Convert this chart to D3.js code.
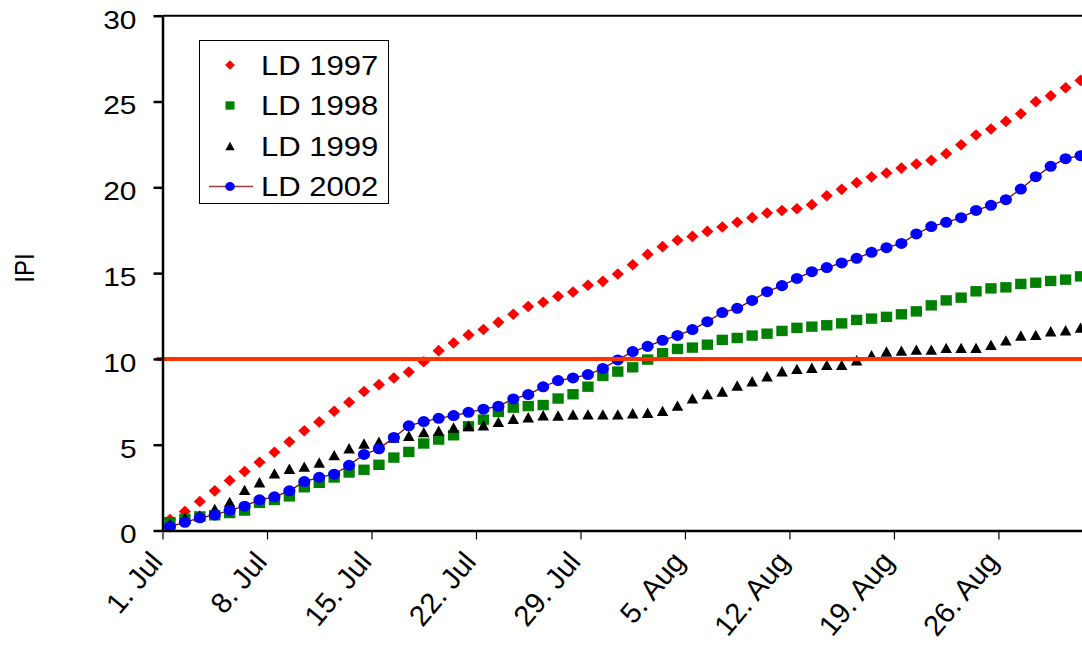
<!DOCTYPE html>
<html>
<head>
<meta charset="utf-8">
<script src="https://cdn.jsdelivr.net/npm/d3@7"></script>
<style>
  html, body { margin: 0; padding: 0; background: #fff; }
  svg { display: block; font-family: "Liberation Sans", Arial, sans-serif; }
</style>
</head>
<body>
<svg id="chart" width="1082" height="649"></svg>
<script>
// Daily observations, 1 July to 31 August
const firstDay = new Date(2002, 6, 1);
const lastDay = new Date(2002, 7, 31);

const xTickLabels = ["1. Jul", "8. Jul", "15. Jul", "22. Jul", "29. Jul", "5. Aug", "12. Aug", "19. Aug", "26. Aug"];
const yTicks = [0, 5, 10, 15, 20, 25, 30];
const yLabel = "IPI";
const threshold = 10;

const seriesNames = ["LD 1997", "LD 1998", "LD 1999", "LD 2002"];

const ld1997 = [
  0.64, 1.11, 1.69, 2.31, 2.91, 3.44, 3.98, 4.56, 5.17, 5.81,
  6.33, 6.95, 7.47, 8.10, 8.50, 8.89, 9.24, 9.83, 10.48, 10.93,
  11.40, 11.71, 12.13, 12.60, 13.05, 13.30, 13.65, 13.90, 14.29, 14.52,
  14.95, 15.49, 16.09, 16.54, 16.91, 17.14, 17.43, 17.69, 17.96, 18.23,
  18.50, 18.65, 18.75, 18.99, 19.51, 19.88, 20.27, 20.60, 20.83, 21.12,
  21.36, 21.57, 21.96, 22.48, 23.05, 23.40, 23.84, 24.29, 24.99, 25.33,
  25.80, 26.23
];
const ld1998 = [
  0.49, 0.67, 0.82, 0.89, 1.01, 1.16, 1.61, 1.78, 1.99, 2.52,
  2.78, 3.09, 3.38, 3.54, 3.83, 4.25, 4.58, 5.07, 5.30, 5.55,
  6.07, 6.46, 6.91, 7.16, 7.25, 7.31, 7.69, 7.94, 8.38, 9.01,
  9.26, 9.51, 9.96, 10.33, 10.58, 10.66, 10.83, 11.11, 11.22, 11.36,
  11.47, 11.63, 11.81, 11.88, 11.96, 12.07, 12.27, 12.35, 12.45, 12.60,
  12.77, 13.12, 13.41, 13.57, 13.94, 14.11, 14.17, 14.37, 14.44, 14.54,
  14.62, 14.81
];
const ld1999 = [
  0.40, 0.75, 0.87, 1.26, 1.67, 2.37, 2.81, 3.33, 3.60, 3.72,
  3.96, 4.39, 4.79, 5.07, 5.17, 5.42, 5.52, 5.73, 5.81, 6.00,
  6.10, 6.13, 6.33, 6.51, 6.60, 6.72, 6.70, 6.76, 6.77, 6.77,
  6.77, 6.83, 6.86, 6.97, 7.28, 7.70, 7.95, 8.10, 8.45, 8.70,
  8.99, 9.28, 9.42, 9.48, 9.65, 9.65, 9.92, 10.21, 10.43, 10.48,
  10.54, 10.54, 10.64, 10.64, 10.64, 10.82, 11.08, 11.36, 11.40, 11.61,
  11.67, 11.82
];
const ld2002 = [
  0.22, 0.48, 0.74, 0.91, 1.18, 1.42, 1.79, 1.96, 2.31, 2.85,
  3.10, 3.28, 3.80, 4.43, 4.76, 5.42, 6.10, 6.35, 6.54, 6.70,
  6.89, 7.07, 7.24, 7.67, 7.92, 8.37, 8.74, 8.89, 9.09, 9.44,
  9.94, 10.43, 10.73, 11.08, 11.37, 11.71, 12.17, 12.70, 12.95, 13.41,
  13.92, 14.27, 14.69, 15.08, 15.32, 15.59, 15.86, 16.21, 16.48, 16.73,
  17.28, 17.71, 17.96, 18.23, 18.65, 18.95, 19.28, 19.90, 20.62, 21.22,
  21.67, 21.84
];

// ---- layout ----
const SX = 1.15; // horizontal stretch of glyphs
const MX = 1.05; // horizontal stretch of markers
const plot = { left: 162.5, right: 1088, top: 15.7, bottom: 530.5 };

const days = d3.timeDay.range(firstDay, d3.timeDay.offset(lastDay, 1));
const x = d3.scaleTime()
  .domain([firstDay, d3.timeDay.offset(lastDay, 1)])
  .range([plot.left, plot.right]);
const y = d3.scaleLinear().domain([0, 30]).range([plot.bottom, plot.top]);
const xMid = d => x(d3.timeHour.offset(d, 12)); // centre of each day

const svg = d3.select("#chart");

// marker shapes (half-width rx, half-height ry)
const shape = {
  diamond: (rx, ry) => `M0,${-ry}L${rx},0L0,${ry}L${-rx},0Z`,
  square: (rx, ry) => `M${-rx},${-ry}H${rx}V${ry}H${-rx}Z`,
  triangle: (rx, ry) => `M0,${-ry}L${rx},${ry}L${-rx},${ry}Z`,
  circle: (rx, ry) => `M${rx},0A${rx},${ry} 0 1,1 ${-rx},0A${rx},${ry} 0 1,1 ${rx},0Z`
};

const series = [
  { name: seriesNames[0], values: ld1997, color: "#ff0000", shape: "diamond", rx: 5.8, ry: 5.8, line: false },
  { name: seriesNames[1], values: ld1998, color: "#008000", shape: "square", rx: 5.4, ry: 5.2, line: false },
  { name: seriesNames[2], values: ld1999, color: "#000000", shape: "triangle", rx: 5.5, ry: 5.2, line: false },
  { name: seriesNames[3], values: ld2002, color: "#0000ff", shape: "circle", rx: 5.8, ry: 5.5, line: true }
];
const lineColor = "#800000";

// clip marks to the window
svg.append("defs").append("clipPath").attr("id", "plotClip")
  .append("rect").attr("x", plot.left - 8).attr("y", 0).attr("width", 1082).attr("height", plot.bottom + 8);

const marks = svg.append("g").attr("clip-path", "url(#plotClip)");

series.forEach(s => {
  const pts = days.map((d, i) => ({ d, v: s.values[i] }));
  if (s.line) {
    marks.append("path")
      .datum(pts)
      .attr("fill", "none")
      .attr("stroke", lineColor)
      .attr("stroke-width", 1.3)
      .attr("d", d3.line().x(p => xMid(p.d)).y(p => y(p.v)));
  }
  marks.append("g").selectAll("path")
    .data(pts)
    .join("path")
    .attr("d", shape[s.shape](s.rx, s.ry))
    .attr("transform", p => `translate(${xMid(p.d)},${y(p.v)}) scale(${MX},1)`)
    .attr("fill", s.color);
});

// threshold line
svg.append("line")
  .attr("x1", plot.left - 6).attr("x2", 1082)
  .attr("y1", y(threshold)).attr("y2", y(threshold))
  .attr("stroke", "#ff3300").attr("stroke-width", 4);

// top border of plot area
svg.append("line")
  .attr("x1", plot.left).attr("x2", 1082)
  .attr("y1", plot.top).attr("y2", plot.top)
  .attr("stroke", "#000").attr("stroke-width", 2);

// ---- axes ----
const yAxis = svg.append("g")
  .attr("transform", `translate(${plot.left},0)`)
  .call(d3.axisLeft(y).tickValues(yTicks).tickSize(9).tickSizeOuter(0));
yAxis.attr("font-size", null).attr("font-family", null);
yAxis.select(".domain").attr("stroke", "#000").attr("stroke-width", 2.5);
yAxis.selectAll(".tick line").attr("stroke", "#000").attr("stroke-width", 2.5);
yAxis.selectAll(".tick text")
  .attr("x", null).attr("dy", "0.36em")
  .attr("text-anchor", "end")
  .attr("transform", `translate(-26,3) scale(${SX},1)`)
  .attr("fill", "#000")
  .style("font-size", "26px");

const xTickDates = xTickLabels.map((_, i) => days[i * 7]);
const xAxis = svg.append("g")
  .attr("transform", `translate(0,${plot.bottom})`)
  .call(d3.axisBottom(x).tickValues(xTickDates).tickSize(9).tickSizeOuter(0)
    .tickFormat((d, i) => xTickLabels[i]));
xAxis.attr("font-size", null).attr("font-family", null);
xAxis.select(".domain").attr("stroke", "#000").attr("stroke-width", 2.5);
xAxis.selectAll(".tick line").attr("stroke", "#000").attr("stroke-width", 1.2);
xAxis.selectAll(".tick text")
  .attr("x", null).attr("y", null).attr("dy", null)
  .attr("text-anchor", "end")
  .attr("transform", "translate(1,32) rotate(-50)")
  .attr("fill", "#000")
  .style("font-size", "29px");

// y axis title
svg.append("text")
  .attr("transform", `translate(24,268) scale(${SX},1) rotate(-90)`)
  .attr("text-anchor", "middle")
  .attr("dy", "0.36em")
  .style("font-size", "24px")
  .text(yLabel);

// ---- legend ----
const legend = svg.append("g");
legend.append("rect")
  .attr("x", 199.5).attr("y", 40.5).attr("width", 189).attr("height", 163)
  .attr("fill", "#fff").attr("stroke", "#000").attr("stroke-width", 1);

series.forEach((s, i) => {
  const cy = 65 + i * 40.5;
  const g = legend.append("g");
  if (s.line) {
    g.append("line").attr("x1", 209).attr("x2", 253).attr("y1", cy).attr("y2", cy)
      .attr("stroke", "#a03c3c").attr("stroke-width", 1.5);
  }
  g.append("path")
    .attr("d", shape[s.shape](s.rx * 0.8, s.ry * 0.8))
    .attr("transform", `translate(230,${cy}) scale(${MX},1)`)
    .attr("fill", s.color);
  g.append("text")
    .attr("transform", `translate(261,${cy}) scale(${SX},1)`)
    .attr("dy", "0.36em")
    .style("font-size", "27px")
    .text(s.name);
});
</script>
</body>
</html>
